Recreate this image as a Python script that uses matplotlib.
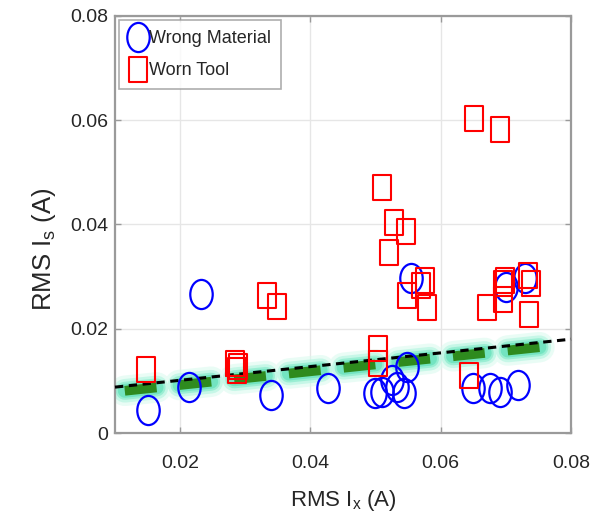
import matplotlib
matplotlib.use("Agg")
import matplotlib.pyplot as plt
import matplotlib.patheffects as pe
from matplotlib.path import Path
from matplotlib.transforms import Affine2D
import numpy as np

# ---------------- data ----------------
wrong_x = [0.0151, 0.0214, 0.0232, 0.0339, 0.0427, 0.0554, 0.0499, 0.0510, 0.0525,
           0.0533, 0.0548, 0.0544, 0.0700, 0.0729, 0.0650, 0.0676, 0.0691, 0.0719]
wrong_y = [0.0044, 0.0088, 0.0267, 0.0073, 0.0086, 0.0297, 0.0077, 0.0079, 0.0102,
           0.0088, 0.0127, 0.0077, 0.0280, 0.0297, 0.0086, 0.0086, 0.0079, 0.0092]

worn_x = [0.0148, 0.0284, 0.0289, 0.0287, 0.0333, 0.0349,
          0.0510, 0.0528, 0.0547, 0.0521, 0.0576, 0.0570, 0.0548, 0.0579, 0.0504, 0.0504,
          0.0651, 0.0691, 0.0699, 0.0696, 0.0696, 0.0671, 0.0734, 0.0739, 0.0736, 0.0643]
worn_y = [0.0123, 0.0134, 0.0128, 0.0121, 0.0265, 0.0244,
          0.0472, 0.0405, 0.0388, 0.0347, 0.0294, 0.0284, 0.0265, 0.0242, 0.0163, 0.0134,
          0.0604, 0.0583, 0.0294, 0.0288, 0.0257, 0.0242, 0.0303, 0.0288, 0.0228, 0.0111]

boundary_x = [0.01, 0.08]
boundary_y = [0.0088, 0.0180]
green_x = [0.0115, 0.0765]

xticks = [0.02, 0.04, 0.06, 0.08]
xtick_labels = ['0.02', '0.04', '0.06', '0.08']
yticks = [0, 0.02, 0.04, 0.06, 0.08]
ytick_labels = ['0', '0.02', '0.04', '0.06', '0.08']

# ---------------- style ----------------
plt.rcParams['font.family'] = ['Liberation Sans', 'DejaVu Sans']
plt.rcParams['mathtext.fontset'] = 'custom'
plt.rcParams['mathtext.rm'] = 'Liberation Sans'
plt.rcParams['mathtext.it'] = 'Liberation Sans'
plt.rcParams['lines.scale_dashes'] = False

text_color = '#262626'
edge_gray = '#9a9a9a'

ellipse = Path.unit_circle().transformed(Affine2D().scale(1.0, 1.3))
rect = Path([(-0.5, -0.66), (0.5, -0.66), (0.5, 0.66), (-0.5, 0.66), (-0.5, -0.66)],
            [Path.MOVETO, Path.LINETO, Path.LINETO, Path.LINETO, Path.CLOSEPOLY])

fig = plt.figure(figsize=(6.04, 5.21), dpi=100)
ax = fig.add_axes([0.1904, 0.1689, 0.755, 0.8004])

ax.set_xlim(0.01, 0.08)
ax.set_ylim(0, 0.08)

# green band just below the boundary, with a soft glow
slope = (boundary_y[1] - boundary_y[0]) / (boundary_x[1] - boundary_x[0])
gy = [boundary_y[0] + slope * (gx - boundary_x[0]) - 0.0009 for gx in green_x]
gline, = ax.plot(green_x, gy, color='#2e8b1e', lw=7, solid_capstyle='butt',
                 dash_capstyle='butt', zorder=2)
gline.set_dashes((23.0, 16.6))
gline.set_path_effects([
    pe.Stroke(linewidth=22, foreground='#d8faee', alpha=0.55, capstyle='round'),
    pe.Stroke(linewidth=17, foreground='#b8f5e2', alpha=0.7, capstyle='round'),
    pe.Stroke(linewidth=13, foreground='#90eccf', alpha=0.8, capstyle='round'),
    pe.Stroke(linewidth=10, foreground='#6fe3bf', alpha=0.9, capstyle='round'),
    pe.Normal(),
])

bline, = ax.plot(boundary_x, boundary_y, color='black', lw=2.2, zorder=3)
bline.set_dashes((6, 4))
bline.set_clip_on(False)

ax.plot(wrong_x, wrong_y, linestyle='none', marker=ellipse, markersize=21,
        markerfacecolor='none', markeredgecolor='#0000ff', markeredgewidth=1.6,
        label='Wrong Material', zorder=4)
ax.plot(worn_x, worn_y, linestyle='none', marker=rect, markersize=18,
        markerfacecolor='none', markeredgecolor='#ff0000', markeredgewidth=1.5,
        label='Worn Tool', zorder=4)

ax.set_xticks(xticks)
ax.set_xticklabels(xtick_labels)
ax.set_yticks(yticks)
ax.set_yticklabels(ytick_labels)
ax.grid(True, color='#e6e6e6', linewidth=1.0, zorder=0)
ax.set_axisbelow(True)
ax.tick_params(axis='both', direction='in', length=4, width=1, color=edge_gray,
               labelcolor=text_color, labelsize=14, top=True, right=True)
ax.tick_params(axis='x', pad=15.5)
ax.tick_params(axis='y', pad=5)
for s in ax.spines.values():
    s.set_color(edge_gray)
    s.set_linewidth(1.6)

ax.set_xlabel('RMS I$_x$ (A)', fontsize=16, color=text_color, labelpad=12)
ax.set_ylabel('RMS I$_s$ (A)', fontsize=18.5, color=text_color)
ax.yaxis.set_label_coords(-0.125, 0.44)

leg = ax.legend(loc='upper left', bbox_to_anchor=(0.009, 0.99), borderaxespad=0,
                fontsize=13, frameon=True, fancybox=False, edgecolor=edge_gray,
                handlelength=1.0, handletextpad=0.1, borderpad=0.55, labelspacing=0.85)
leg.get_frame().set_linewidth(1.2)
for t in leg.get_texts():
    t.set_color(text_color)

fig.savefig('out.png', dpi=100)
